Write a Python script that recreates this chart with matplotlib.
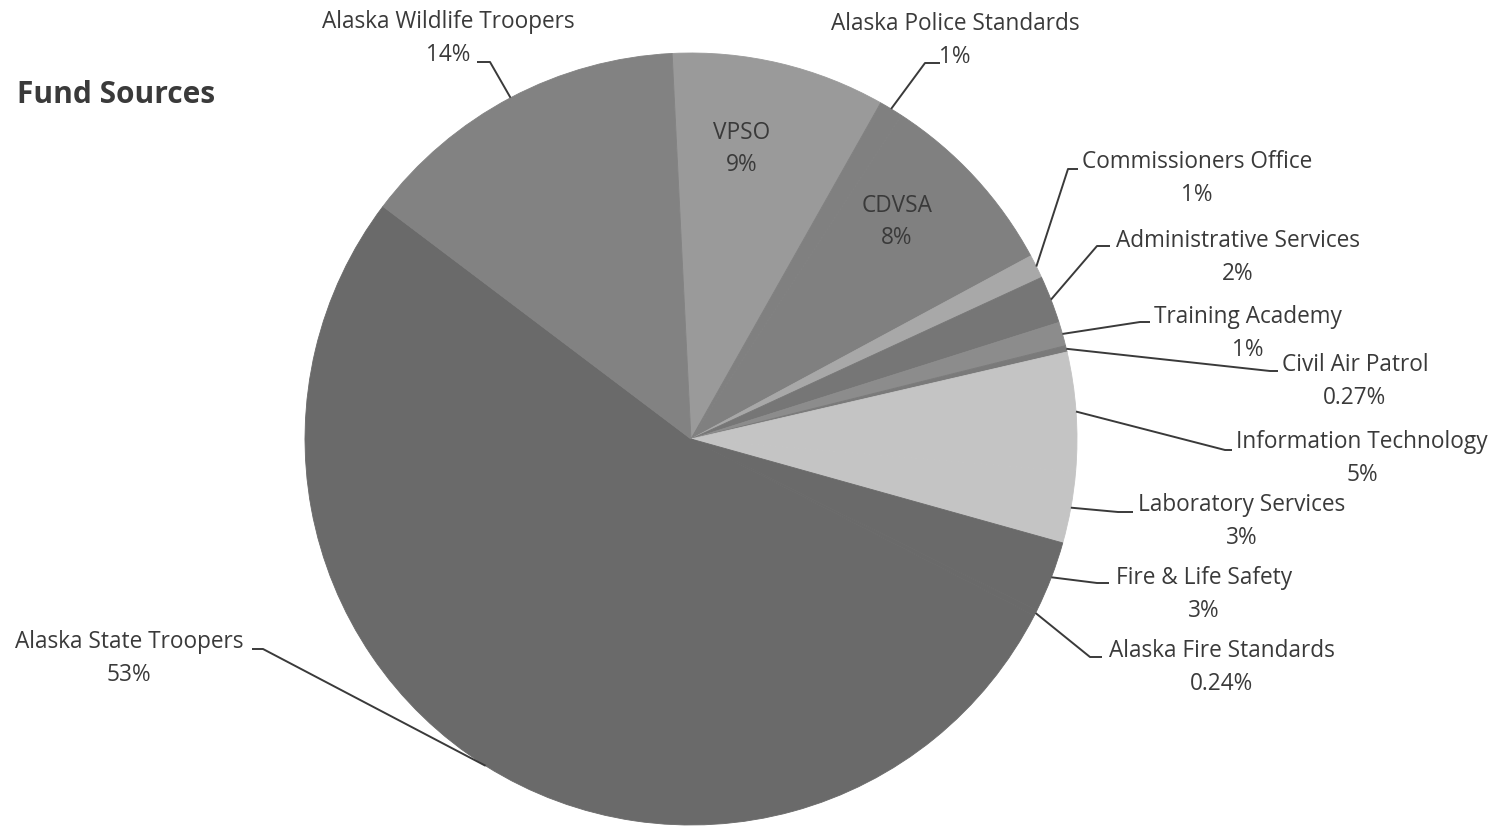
import matplotlib
matplotlib.use("Agg")
import matplotlib.pyplot as plt
import numpy as np

# ---- data ----
categories = ["VPSO", "Alaska Police Standards", "CDVSA", "Commissioners Office",
              "Administrative Services", "Training Academy", "Civil Air Patrol",
              "Information Technology", "Laboratory Services", "Fire & Life Safety",
              "Alaska Fire Standards", "Alaska State Troopers", "Alaska Wildlife Troopers"]
values = [9, 1, 8, 1, 2, 1, 0.27, 5, 3, 3, 0.24, 53, 14]
pct_labels = ["9%", "1%", "8%", "1%", "2%", "1%", "0.27%", "5%", "3%", "3%", "0.24%", "53%", "14%"]

colors = ["#9a9a9a", "#808080", "#808080", "#a8a8a8", "#767676", "#8c8c8c", "#7a7a7a",
          "#c4c4c4", "#c4c4c4", "#6a6a6a", "#6a6a6a", "#6a6a6a", "#828282"]

W, H = 1506, 828
fig = plt.figure(figsize=(W / 100, H / 100), dpi=100)
ax = fig.add_axes([0, 0, 1, 1])

def P(x, y):
    """pixel (from top-left) -> data coords"""
    return x, H - y

cx, cy = P(691, 440)
R = 386
wedges, _ = ax.pie(values, colors=colors, startangle=92.8, counterclock=False,
                   center=(cx, cy), radius=R, wedgeprops=dict(linewidth=0.6))
for w, c in zip(wedges, colors):
    w.set_edgecolor(c)
ax.set_xlim(0, W)
ax.set_ylim(0, H)
ax.set_aspect("equal")
ax.axis("off")

FONT = ["Open Sans", "DejaVu Sans"]
TC = "#3a3a3a"
FS = 16.3

# inside labels
inside = {0: (742, 133), 2: (897, 206)}
for i, (x, y) in inside.items():
    ax.text(*P(x, y), categories[i], ha="center", va="center", fontsize=FS, color=TC, family=FONT)
    ax.text(*P(x, y + 32), pct_labels[i], ha="center", va="center", fontsize=FS, color=TC, family=FONT)

# outside labels: text center (line1), elbow, end of leader
outside = {
    12: ((448, 22), (490, 63), (477, 63)),
    1: ((955, 24), (925, 64), (940, 64)),
    3: ((1197, 162), (1068, 170), (1078, 170)),
    4: ((1238, 241), (1097, 247), (1110, 247)),
    5: ((1248, 317), (1140, 323), (1150, 323)),
    6: ((1355, 365), (1270, 372), (1278, 372)),
    7: ((1362, 442), (1225, 451), (1232, 451)),
    8: ((1242, 505), (1118, 513), (1133, 513)),
    9: ((1204, 578), (1097, 584), (1109, 584)),
    10: ((1222, 651), (1090, 658), (1102, 658)),
    11: ((129, 642), (263, 650), (252, 650)),
}
for i, ((tx, ty), elbow, end) in outside.items():
    ax.text(*P(tx, ty), categories[i], ha="center", va="center", fontsize=FS, color=TC, family=FONT)
    ax.text(*P(tx, ty + 33), pct_labels[i], ha="center", va="center", fontsize=FS, color=TC, family=FONT)
    w = wedges[i]
    mid = np.deg2rad((w.theta1 + w.theta2) / 2)
    ex, ey = cx + R * np.cos(mid), cy + R * np.sin(mid)
    ax.plot([ex, P(*elbow)[0], P(*end)[0]], [ey, P(*elbow)[1], P(*end)[1]],
            color="#3a3a3a", lw=1.4, solid_capstyle="butt", zorder=3)

ax.text(*P(17, 95), "Fund Sources", ha="left", va="center", fontsize=21.5, fontweight="bold",
        color="#3a3a3a", family=FONT)

fig.savefig("out.png", dpi=100, facecolor="white")
